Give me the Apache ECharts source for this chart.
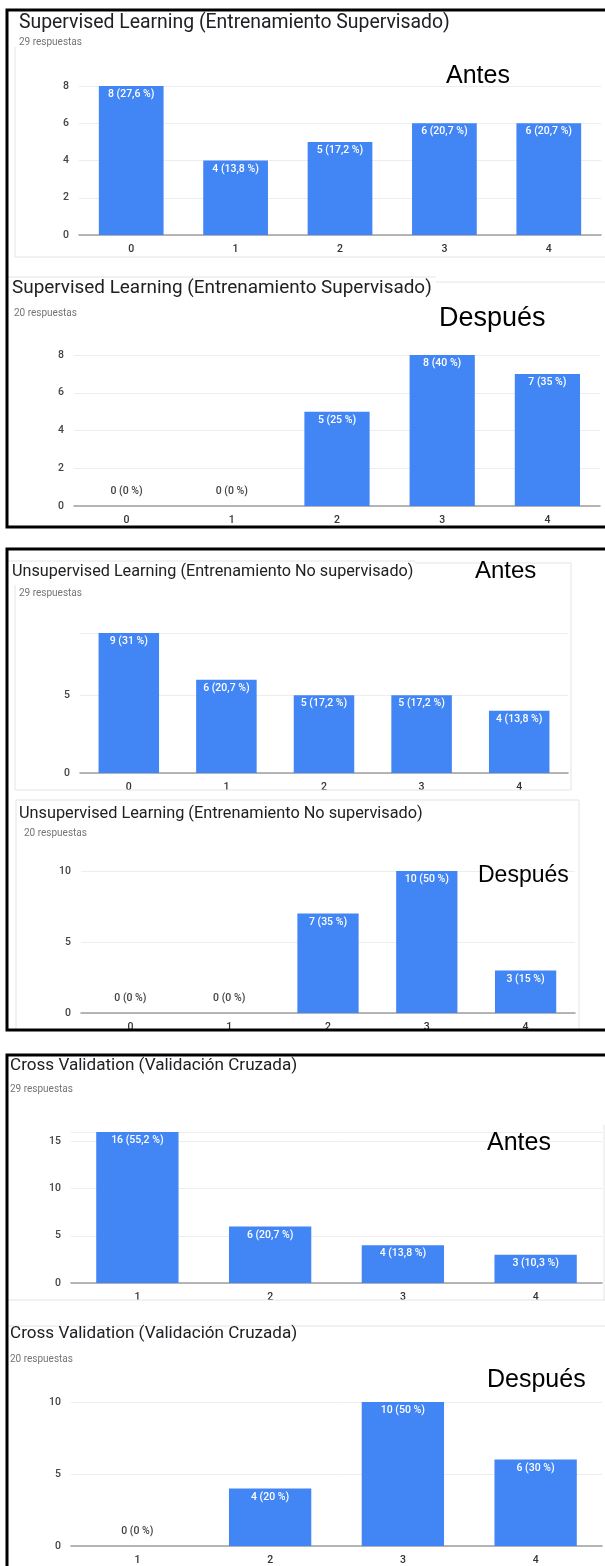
<!DOCTYPE html>
<html>
<head>
<meta charset="utf-8">
<script src="https://cdn.jsdelivr.net/npm/echarts@6/dist/echarts.min.js"></script>
<style>
  html, body { margin: 0; padding: 0; background: #fff; }
  #charts { width: 605px; height: 1566px; }
</style>
</head>
<body>
<div id="charts"></div>
<script>
// categorias (escala de conocimiento)
var catsSup = ['0', '1', '2', '3', '4'];
var catsCV = ['1', '2', '3', '4'];

// Supervised Learning
var supAntes = [8, 4, 5, 6, 6];
var supAntesPct = ['27,6', '13,8', '17,2', '20,7', '20,7'];
var supDespues = [0, 0, 5, 8, 7];
var supDespuesPct = ['0', '0', '25', '40', '35'];

// Unsupervised Learning
var unsupAntes = [9, 6, 5, 5, 4];
var unsupAntesPct = ['31', '20,7', '17,2', '17,2', '13,8'];
var unsupDespues = [0, 0, 7, 10, 3];
var unsupDespuesPct = ['0', '0', '35', '50', '15'];

// Cross Validation
var cvAntes = [16, 6, 4, 3];
var cvAntesPct = ['55,2', '20,7', '13,8', '10,3'];
var cvDespues = [0, 4, 10, 6];
var cvDespuesPct = ['0', '20', '50', '30'];

var titleSup = 'Supervised Learning (Entrenamiento Supervisado)';
var titleUnsup = 'Unsupervised Learning (Entrenamiento No supervisado)';
var titleCV = 'Cross Validation (Validación Cruzada)';

var BLUE = '#4285f4';
var FONT = 'Roboto, "Noto Sans", sans-serif';

var charts = [
	{ cats: catsSup, vals: supAntes, pct: supAntesPct, max: 8, interval: 2,
	  grid: { left: 79, top: 86, width: 522, height: 149 } },
	{ cats: catsSup, vals: supDespues, pct: supDespuesPct, max: 8, interval: 2,
	  grid: { left: 74, top: 355, width: 526, height: 151 } },
	{ cats: catsSup, vals: unsupAntes, pct: unsupAntesPct, max: 9, interval: 5,
	  grid: { left: 80, top: 633, width: 488, height: 140 } },
	{ cats: catsSup, vals: unsupDespues, pct: unsupDespuesPct, max: 10, interval: 5,
	  grid: { left: 81, top: 871, width: 494, height: 142 } },
	{ cats: catsCV, vals: cvAntes, pct: cvAntesPct, max: 16, interval: 5,
	  grid: { left: 71, top: 1132, width: 531, height: 151 } },
	{ cats: catsCV, vals: cvDespues, pct: cvDespuesPct, max: 10, interval: 5,
	  grid: { left: 71, top: 1402, width: 531, height: 151 } }
];

// textos: titulo, n respuestas, antes/despues
var texts = [
	[titleSup, 19.4, 19, 14, 'main'], ['29 respuestas', 10, 19, 37, 'sub'], ['Antes', 25, 446, 64, 'tag'],
	[titleSup, 18.9, 12, 279, 'main'], ['20 respuestas', 10, 14, 308, 'sub'], ['Después', 27, 439, 305, 'tag'],
	[titleUnsup, 16.2, 12, 564, 'main'], ['29 respuestas', 10, 19, 588, 'sub'], ['Antes', 24, 475, 559, 'tag'],
	[titleUnsup, 16.3, 19, 806, 'main'], ['20 respuestas', 10, 24, 828, 'sub'], ['Después', 23, 478, 864, 'tag'],
	[titleCV, 17.1, 10, 1057, 'main'], ['29 respuestas', 10, 10, 1084, 'sub'], ['Antes', 25, 487, 1131, 'tag'],
	[titleCV, 17.1, 10, 1325, 'main'], ['20 respuestas', 10, 10, 1354, 'sub'], ['Después', 25, 487, 1368, 'tag']
];

var option = {
	animation: false,
	backgroundColor: '#fff',
	title: [],
	grid: [],
	xAxis: [],
	yAxis: [],
	series: [],
	graphic: []
};

texts.forEach(function(t){
	var style = { fontSize: t[1], fontWeight: 'normal', fontFamily: FONT, color: '#202124' };
	if(t[4] == 'sub'){
		style.color = '#757575';
	}
	if(t[4] == 'tag'){
		style.fontFamily = '"Liberation Sans", Arial, sans-serif';
		style.color = '#000';
	}
	option.title.push({ text: t[0], left: t[2], top: t[3], padding: 0, textStyle: style });
});

charts.forEach(function(c, i){
	option.grid.push(c.grid);
	option.xAxis.push({
		type: 'category',
		gridIndex: i,
		data: c.cats,
		axisTick: { show: false },
		axisLine: { lineStyle: { color: '#9e9e9e', width: 1.5 } },
		axisLabel: { color: '#333', fontSize: 10.5, fontWeight: 500, fontFamily: FONT, margin: 9 }
	});
	option.yAxis.push({
		type: 'value',
		gridIndex: i,
		min: 0,
		max: c.max,
		interval: c.interval,
		axisLine: { show: false },
		axisTick: { show: false },
		axisLabel: { color: '#444', fontSize: 10.5, fontWeight: 500, fontFamily: FONT, margin: 10, showMaxLabel: c.max % c.interval == 0 },
		splitLine: { lineStyle: { color: '#ededed' } }
	});
	var pct = c.pct;
	option.series.push({
		type: 'bar',
		xAxisIndex: i,
		yAxisIndex: i,
		barWidth: '62%',
		itemStyle: { color: BLUE },
		label: {
			show: true,
			position: 'insideTop',
			distance: 3,
			color: '#fff',
			fontSize: 10.5,
			fontWeight: 500,
			fontFamily: FONT,
			formatter: function(p){
				return p.value + ' (' + pct[p.dataIndex] + ' %)';
			}
		},
		data: c.vals.map(function(v){
			if(v == 0){
				return { value: v, label: { position: 'top', distance: 9, color: '#444' } };
			}
			return v;
		})
	});
});

// marcos negros de cada pareja antes/despues
[[10, 517], [549, 481], [1055, 530]].forEach(function(b){
	option.graphic.push({
		type: 'rect',
		shape: { x: 7, y: b[0], width: 620, height: b[1] },
		style: { fill: null, stroke: '#000', lineWidth: 3 },
		z: 100
	});
});

// bordes grises de las capturas
[
	[15, 47, 15, 257], [15, 257, 605, 257],
	[7, 277, 436, 277], [436, 282, 605, 282],
	[7, 561, 415, 561], [415, 563, 571, 563], [571, 563, 571, 790], [15, 585, 15, 790], [15, 790, 571, 790],
	[16, 800, 579, 800], [16, 800, 16, 1030], [579, 800, 579, 1030],
	[604, 1125, 604, 1300], [7, 1300, 605, 1300], [7, 1326, 605, 1326]
].forEach(function(l){
	option.graphic.push({
		type: 'line',
		shape: { x1: l[0], y1: l[1], x2: l[2], y2: l[3] },
		style: { stroke: '#e4e4e4', lineWidth: 1 },
		z: 1
	});
});

var myChart = echarts.init(document.getElementById('charts'));
myChart.setOption(option);
</script>
</body>
</html>
